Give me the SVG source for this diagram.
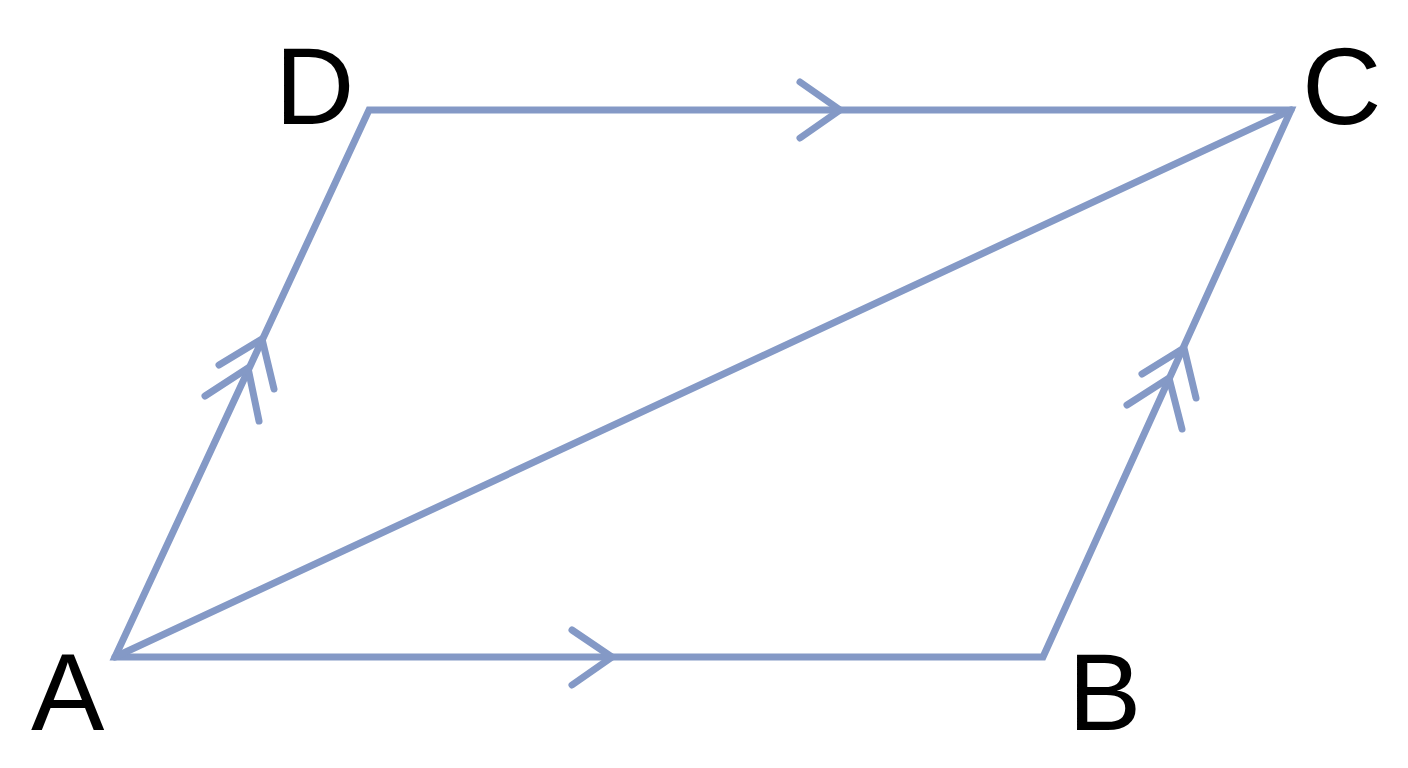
<svg xmlns="http://www.w3.org/2000/svg" width="1408" height="768" viewBox="0 0 1408 768">
<style>
.e{fill:none;stroke:#8499c6;stroke-width:7;stroke-linecap:round;stroke-linejoin:miter}
.t{font-family:"Liberation Sans",Arial,sans-serif;font-size:110px;fill:#000}
</style>
<rect width="1408" height="768" fill="#fff"/>
<g id="connectors">
<path class="e" d="M115,657 L1043,657 L1291,110 L369,110 Z"/>
<path class="e" d="M115,657 L1291,110"/>
<path class="e" d="M572,630 L612,657 L572,685"/>
<path class="e" d="M800,82 L840,110 L800,138"/>
<path class="e" d="M219,365 L262,339 L274,389"/>
<path class="e" d="M205,396 L248,368 L259,421"/>
<path class="e" d="M1142,374 L1184,348 L1196,398"/>
<path class="e" d="M1127,405 L1169,378 L1182,429"/>
</g>
<g id="A"><text class="t" x="31" y="730">A</text></g>
<g id="B"><text class="t" x="1068" y="730">B</text></g>
<g id="C"><text class="t" x="1302" y="124">C</text></g>
<g id="D"><text class="t" x="275" y="124">D</text></g>
</svg>
